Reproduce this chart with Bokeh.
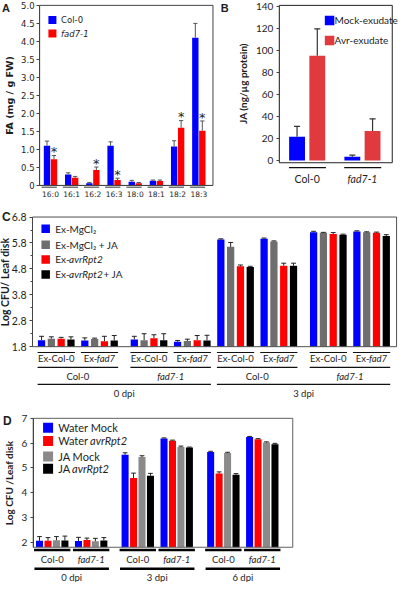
import numpy as np
from bokeh.plotting import figure
from bokeh.models import LinearAxis, FixedTicker, Range1d, NumeralTickFormatter
from bokeh.layouts import column, row
from bokeh.core.properties import value
from bokeh.embed import file_html
from bokeh.resources import INLINE

# ---------------- data ----------------
fa_categories = ["16:0", "16:1", "16:2", "16:3", "18:0", "18:1", "18:2", "18:3"]
fa_col0 = [1.10, 0.30, 0.06, 1.10, 0.10, 0.13, 1.08, 4.10]
fa_col0_err = [0.13, 0.05, 0.02, 0.11, 0.04, 0.02, 0.16, 0.40]
fa_fad7 = [0.73, 0.21, 0.43, 0.15, 0.06, 0.12, 1.60, 1.52]
fa_fad7_err = [0.10, 0.04, 0.08, 0.05, 0.02, 0.03, 0.20, 0.27]
fa_significant = [True, False, True, True, False, False, True, True]
fa_ticks = [0, 0.5, 1, 1.5, 2, 2.5, 3, 3.5, 4, 4.5, 5]
fa_series = ["Col-0", "fad7-1"]

ja_genotypes = ["Col-0", "fad7-1"]
ja_mock = [21.7, 3.4]
ja_mock_err = [9.5, 1.5]
ja_avr = [95.5, 27.0]
ja_avr_err = [24.5, 11.0]
ja_ticks = [0, 20, 40, 60, 80, 100, 120, 140]
ja_series = ["Mock-exudate", "Avr-exudate"]

c_dpi = ["0 dpi", "3 dpi"]
c_genotypes = ["Col-0", "fad7-1"]
c_exudates = ["Ex-Col-0", "Ex-fad7"]
c_mgcl2 = [2.05, 2.04, 2.08, 1.99, 5.93, 5.96, 6.21, 6.24]
c_mgcl2_err = [0.15, 0.10, 0.12, 0.05, 0.03, 0.03, 0.04, 0.03]
c_mgcl2_ja = [2.11, 2.10, 2.05, 2.02, 5.65, 5.86, 6.19, 6.21]
c_mgcl2_ja_err = [0.07, 0.03, 0.25, 0.07, 0.17, 0.02, 0.02, 0.02]
c_avr = [2.11, 2.01, 2.13, 2.05, 4.90, 4.92, 6.15, 6.19]
c_avr_err = [0.05, 0.19, 0.13, 0.18, 0.05, 0.10, 0.05, 0.03]
c_avr_ja = [2.08, 2.04, 2.05, 2.04, 4.87, 4.92, 6.12, 6.07]
c_avr_ja_err = [0.10, 0.19, 0.25, 0.20, 0.03, 0.10, 0.02, 0.05]
c_ticks = [1.8, 2.8, 3.8, 4.8, 5.8, 6.8]
c_minor_ticks = [2.3, 3.3, 4.3, 5.3, 6.3]

d_dpi = ["0 dpi", "3 dpi", "6 dpi"]
d_genotypes = ["Col-0", "fad7-1"]
d_water_mock = [2.06, 2.05, 5.53, 6.19, 5.64, 6.25]
d_water_mock_err = [0.17, 0.15, 0.08, 0.02, 0.03, 0.02]
d_water_avr = [2.06, 2.09, 4.59, 6.10, 4.77, 6.16]
d_water_avr_err = [0.13, 0.08, 0.20, 0.02, 0.07, 0.02]
d_ja_mock = [2.08, 2.04, 5.44, 5.84, 5.60, 6.02]
d_ja_mock_err = [0.15, 0.12, 0.05, 0.04, 0.03, 0.03]
d_ja_avr = [2.07, 2.07, 4.68, 5.82, 4.72, 5.95]
d_ja_avr_err = [0.18, 0.12, 0.10, 0.02, 0.05, 0.04]
d_ticks = [2, 3, 4, 5, 6, 7]

# ---------------- styles ----------------
SX = 398 / 414
SY = 582 / 598
FONT = "Lato"
AFONT = "DejaVu Sans"
INK = "#1e1e1e"
BLUE = "#0000FF"
RED = "#FF0000"
BRED = "#E03A3E"
GRAY_C = "#6E6E6E"
GRAY_D = "#8A8A8A"
BLACK = "#000000"

W_LATO = {"a": .49, "b": .55, "c": .46, "d": .55, "e": .51, "f": .32, "g": .50, "h": .55,
          "i": .24, "j": .24, "k": .50, "l": .24, "m": .83, "n": .55, "o": .55, "p": .55,
          "q": .55, "r": .37, "s": .42, "t": .35, "u": .55, "v": .50, "w": .76, "x": .49,
          "y": .50, "z": .45, "A": .68, "C": .65, "E": .55, "F": .53, "J": .39, "M": .86,
          "R": .60, "W": .99, "-": .34, " ": .19, "+": .58, "\u2082": .38, ":": .25, ".": .23}


def tw(s, size):
    return sum(W_LATO.get(ch, 0.58 if ch.isdigit() else 0.52) for ch in s) * size


class Panel:
    def __init__(self, W, H, rx0, ry0, xmap, ymap):
        (px1, v1), (px2, v2) = xmap
        (py1, w1), (py2, w2) = ymap
        self.kx = (v2 - v1) / (px2 - px1)
        self.ky = (w2 - w1) / (py2 - py1)
        self.xp, self.xv, self.yp, self.yv = px1, v1, py1, w1
        self.p = figure(width=W, height=H,
                        x_range=Range1d(self.X(rx0), self.X(rx0 + W / SX)),
                        y_range=Range1d(self.Y(ry0 + H / SY), self.Y(ry0)),
                        output_backend="svg", toolbar_location=None,
                        x_axis_type=None, y_axis_type=None, title=None, min_border=0)
        self.p.outline_line_color = None
        self.p.background_fill_color = "white"
        self.p.border_fill_color = "white"

    def X(self, px):
        return self.xv + (px - self.xp) * self.kx

    def Y(self, py):
        return self.yv + (py - self.yp) * self.ky

    def ux(self, layout_px):
        return layout_px / SX * self.kx

    def text(self, x, y, s, size, font=FONT, style="normal", align="left", color=INK):
        self.p.text(x=[x], y=[y], text=[s], text_font=value(font), text_font_size=f"{size}px",
                    text_font_style=style, text_align=align, text_baseline="middle",
                    text_color=color)

    def runs(self, x, y, parts, size, align="left", color=INK):
        widths = [self.ux(tw(t, size)) for t, _ in parts]
        start = x - sum(widths) / 2 if align == "center" else x
        for (t, it), w in zip(parts, widths):
            self.text(start, y, t, size, style="italic" if it else "normal", color=color)
            start += w

    def bars(self, xs, tops, bottom, width, color):
        self.p.vbar(x=list(xs), top=list(tops), bottom=bottom, width=width,
                    fill_color=color, line_color=None)

    def err(self, xs, tops, errs, half, color="#333333", lw=1):
        xs = np.asarray(xs, float)
        tops = np.asarray(tops, float)
        hi = tops + np.asarray(errs, float)
        self.p.segment(x0=xs, y0=tops, x1=xs, y1=hi, line_color=color, line_width=lw)
        self.p.segment(x0=xs - half, y0=hi, x1=xs + half, y1=hi, line_color=color, line_width=lw)

    def box(self, l, r, b, t, color="#444444"):
        self.p.quad(left=[l], right=[r], bottom=[b], top=[t], fill_color=None,
                    line_color=color, line_width=1)

    def yaxis(self, loc, bounds, ticks, label, font, size, lsize, minor=None, fmt=None,
              overrides=None, standoff=3, lstand=3):
        ax = LinearAxis(fixed_location=loc, bounds=bounds,
                        ticker=FixedTicker(ticks=ticks, minor_ticks=minor or []))
        if fmt is not None:
            ax.formatter = fmt
        if overrides:
            ax.major_label_overrides = overrides
        ax.axis_label = label
        ax.axis_label_text_font = font
        ax.axis_label_text_font_size = f"{lsize}px"
        ax.axis_label_text_font_style = "bold"
        ax.axis_label_text_color = INK
        ax.axis_label_standoff = lstand
        ax.major_label_text_font = font
        ax.major_label_text_font_size = f"{size}px"
        ax.major_label_text_color = INK
        ax.major_label_standoff = standoff
        ax.major_tick_in = 0
        ax.major_tick_out = 3
        ax.minor_tick_in = 0
        ax.minor_tick_out = 2
        ax.axis_line_color = "#444444"
        ax.major_tick_line_color = "#444444"
        ax.minor_tick_line_color = "#444444"
        self.p.add_layout(ax, "left")
        return ax


# ================= Panel A =================
A = Panel(216, 199, 0, 0, ((52, 0), (206.3, 7)), ((190, 0), (5, 5)))
ia = np.arange(len(fa_categories))
off_a, bw_a = 0.165, 0.30
A.bars(ia - off_a, fa_col0, 0, bw_a, BLUE)
A.bars(ia + off_a, fa_fad7, 0, bw_a, RED)
A.err(ia - off_a, fa_col0, fa_col0_err, 0.1, "#555555")
A.err(ia + off_a, fa_fad7, fa_fad7_err, 0.1, "#555555")
A.box(A.X(40.7), A.X(221), 0, 5)
A.yaxis(A.X(40.7), (0, 5), fa_ticks, "FA (mg / g FW)", AFONT, 8.5, 9.5,
        fmt=NumeralTickFormatter(format="0.0"), overrides={0: "0"}, standoff=2, lstand=3)
xa = LinearAxis(fixed_location=0, bounds=(A.X(40.7), A.X(221)),
                ticker=FixedTicker(ticks=list(ia)),
                major_label_overrides={int(i): c for i, c in zip(ia, fa_categories)})
xa.major_tick_in = 0
xa.major_tick_out = 0
xa.major_label_standoff = 5
xa.major_label_text_font = AFONT
xa.major_label_text_font_size = "7.5px"
xa.major_label_text_color = INK
xa.axis_line_color = "#444444"
A.p.add_layout(xa, "below")
A.p.segment(x0=ia - 0.42, y0=A.Y(191.8), x1=ia + 0.3, y1=A.Y(191.8), line_color="#333333",
            line_width=1)
sig = [i for i, s in enumerate(fa_significant) if s]
A.p.text(x=[i + off_a for i in sig],
         y=[fa_fad7[i] + fa_fad7_err[i] + 0.1 for i in sig],
         text=["*"] * len(sig), text_font=value(AFONT), text_font_size="13px",
         text_align="center", text_baseline="middle", text_color=INK)
A.p.scatter(x=[A.X(54), A.X(54)], y=[A.Y(20), A.Y(34)], marker="square", size=8,
            fill_color=[BLUE, RED], line_color=None)
A.text(A.X(63), A.Y(20.5), fa_series[0], 8.5, font=AFONT)
A.text(A.X(63), A.Y(34.5), fa_series[1], 8.5, font=AFONT, style="italic")
A.text(A.X(1.5), A.Y(7.5), "A", 11, font="Liberation Sans", style="bold")

# ================= Panel B =================
B = Panel(182, 199, 216 / SX, 0, ((319, 0), (376.5, 1)), ((164.5, 0), (6.5, 140)))
ib = np.arange(len(ja_genotypes))
off_b, bw_b = 0.183, 0.287
B.bars(ib - off_b, ja_mock, 0, bw_b, BLUE)
B.bars(ib + off_b, ja_avr, 0, bw_b, BRED)
B.err(ib - off_b, ja_mock, ja_mock_err, 0.055, "#333333", 1.2)
B.err(ib + off_b, ja_avr, ja_avr_err, 0.055, "#333333", 1.2)
B.box(B.X(290), B.X(407.5), B.Y(166.7), B.Y(5), "#222222")
B.yaxis(B.X(290), (0, 140), ja_ticks, "JA (ng/\u00b5g protein)", FONT, 10, 10, standoff=3, lstand=4)
B.p.segment(x0=ib - 0.33, y0=B.Y(171.7), x1=ib + 0.34, y1=B.Y(171.7), line_color="#111111",
            line_width=1.3)
B.text(0, B.Y(183.5), ja_genotypes[0], 10.5, align="center")
B.text(1, B.Y(183.5), ja_genotypes[1], 10.5, style="italic", align="center")
B.p.scatter(x=[B.X(342.3)] * 2, y=[B.Y(20.5), B.Y(41)], marker="square", size=9.5,
            fill_color=[BLUE, BRED], line_color=None)
B.text(B.X(347.5), B.Y(20.5), ja_series[0], 10)
B.text(B.X(347.5), B.Y(41), ja_series[1], 10)
B.text(B.X(229), B.Y(8), "B", 11, font="Liberation Sans", style="bold")

# ================= Panel C =================
C = Panel(398, 210, 0, 199 / SY, ((58, 0), (160, 10)), ((355.7, 1.8), (222.5, 6.8)))
P_C, G_C = 45 / 10.2, 6.5 / 10.2
c_centers = []
for d in range(len(c_dpi)):
    for k in range(len(c_genotypes)):
        for e in range(len(c_exudates)):
            j = d * 4 + k * 2 + e
            c_centers.append(j * P_C + (k + d) * G_C)
c_centers = np.array(c_centers)
c_vals = [c_mgcl2, c_mgcl2_ja, c_avr, c_avr_ja]
c_errs = [c_mgcl2_err, c_mgcl2_ja_err, c_avr_err, c_avr_ja_err]
c_cols = [BLUE, GRAY_C, RED, BLACK]
for s in range(4):
    xs = c_centers + (s - 1.5) * 1.0
    C.bars(xs, c_vals[s], 1.8, 0.74, c_cols[s])
    C.err(xs, c_vals[s], c_errs[s], 0.25, "#222222")
C.box(C.X(33.3), C.X(412), 1.8, 6.8, "#505050")
C.yaxis(C.X(33.3), (1.8, 6.8), c_ticks, "Log CFU/ Leaf disk", FONT, 10.5, 10.5,
        minor=c_minor_ticks, fmt=NumeralTickFormatter(format="0.0"), standoff=3, lstand=-2)
hw = 1.9
C.p.segment(x0=c_centers - hw, y0=C.Y(361.7), x1=c_centers + hw, y1=C.Y(361.7),
            line_color="#111111", line_width=1.2)
for j, cx in enumerate(c_centers):
    if j % 2 == 0:
        C.text(cx, C.Y(367.5), c_exudates[0], 9.5, align="center")
    else:
        C.runs(cx, C.Y(367.5), [("Ex-", False), ("fad7", True)], 9.5, align="center")
gx0 = c_centers[0::2] - hw
gx1 = c_centers[1::2] + hw
C.p.segment(x0=gx0, y0=C.Y(377), x1=gx1, y1=C.Y(377), line_color="#111111", line_width=1.2)
for k, gc in enumerate((c_centers[0::2] + c_centers[1::2]) / 2):
    C.text(gc, C.Y(386.5), c_genotypes[k % 2], 9.5, style="italic" if k % 2 else "normal",
           align="center")
dx0 = c_centers[0::4] - hw
dx1 = c_centers[3::4] + hw
C.p.segment(x0=dx0, y0=C.Y(394.5), x1=dx1, y1=C.Y(394.5), line_color="#111111", line_width=1.2)
for d, dc in enumerate((dx0 + dx1) / 2):
    C.text(dc, C.Y(404), c_dpi[d], 9.5, align="center")
leg_c_y = [234.5, 251, 266, 281.5]
C.p.scatter(x=[C.X(47)] * 4, y=[C.Y(v) for v in leg_c_y], marker="square", size=8.5,
            fill_color=c_cols, line_color=None)
c_legend = [[("Ex-MgCl\u2082", False)], [("Ex-MgCl\u2082 + JA", False)],
            [("Ex-", False), ("avrRpt2", True)],
            [("Ex-", False), ("avrRpt2", True), (" + JA", False)]]
for yv, parts in zip(leg_c_y, c_legend):
    C.runs(C.X(57), C.Y(yv), parts, 10)
C.text(C.X(1.5), C.Y(222), "C", 12, font="Liberation Sans", style="bold")

# ================= Panel D =================
D = Panel(398, 173, 0, 199 / SY + 210 / SY, ((53.8, 0), (141.8, 10)), ((556.7, 2), (429.3, 7)))
P_D, G_D = 40.5 / 8.8, 8 / 8.8
d_centers = np.array([(d * 2 + k) * P_D + d * G_D
                      for d in range(len(d_dpi)) for k in range(len(d_genotypes))])
d_vals = [d_water_mock, d_water_avr, d_ja_mock, d_ja_avr]
d_errs = [d_water_mock_err, d_water_avr_err, d_ja_mock_err, d_ja_avr_err]
d_cols = [BLUE, RED, GRAY_D, BLACK]
for s in range(4):
    xs = d_centers + (s - 1.5) * 1.0
    D.bars(xs, d_vals[s], 1.8, 0.83, d_cols[s])
    D.err(xs, d_vals[s], d_errs[s], 0.28, "#222222")
D.box(D.X(34), D.X(304), 1.8, 7, "#606060")
D.yaxis(D.X(34), (1.8, 7), d_ticks, "Log CFU /Leaf disk", FONT, 10, 10, standoff=3, lstand=4)
hd = 2.15
D.p.segment(x0=d_centers - hd, y0=D.Y(564.5), x1=d_centers + hd, y1=D.Y(564.5),
            line_color="#000000", line_width=2.5)
for j, cx in enumerate(d_centers):
    D.text(cx, D.Y(574), d_genotypes[j % 2], 9.5, style="italic" if j % 2 else "normal",
           align="center")
e0 = d_centers[0::2] - 2.1
e1 = d_centers[1::2] + 2.1
D.p.segment(x0=e0, y0=D.Y(584), x1=e1, y1=D.Y(584), line_color="#000000", line_width=2.5)
for d, dc in enumerate((e0 + e1) / 2):
    D.text(dc, D.Y(593), d_dpi[d], 9.5, align="center")
leg_d_y = [439, 452.5, 468.5, 481]
D.p.scatter(x=[D.X(49.5)] * 4, y=[D.Y(v) for v in leg_d_y], marker="square", size=10,
            fill_color=d_cols, line_color=None)
d_legend = [[("Water Mock", False)], [("Water ", False), ("avrRpt2", True)],
            [("JA Mock", False)], [("JA ", False), ("avrRpt2", True)]]
for yv, parts in zip(leg_d_y, d_legend):
    D.runs(D.X(60), D.Y(yv), parts, 11)
D.text(D.X(2.5), D.Y(432.5), "D", 12, font="Liberation Sans", style="bold")

layout = column(row(A.p, B.p), C.p, D.p)
open("out.html", "w").write(file_html(layout, INLINE))
